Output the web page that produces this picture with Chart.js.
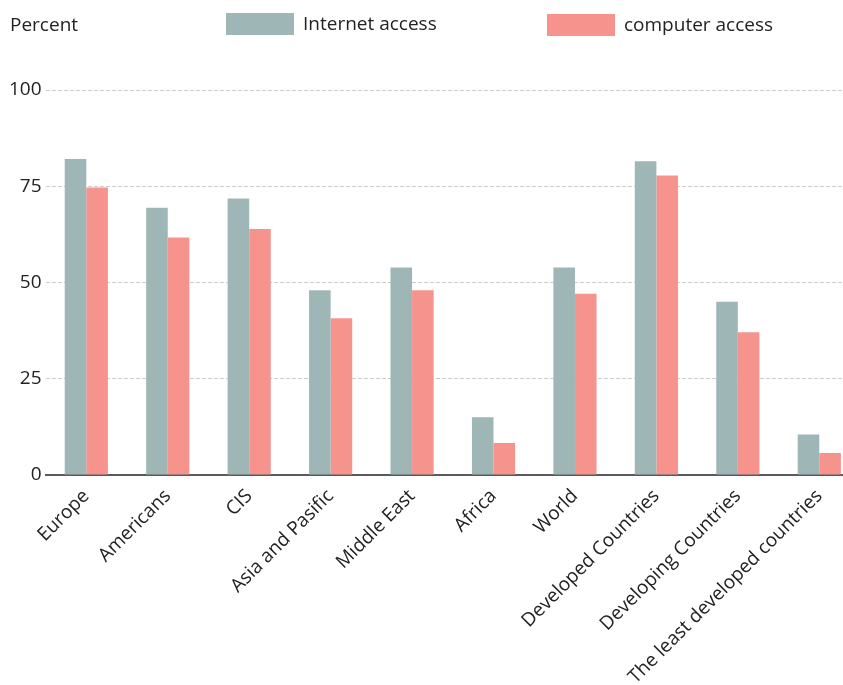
<!DOCTYPE html>
<html>
<head>
<meta charset="utf-8">
<script src="https://cdn.jsdelivr.net/npm/chart.js@4/dist/chart.umd.min.js"></script>
<style>
  html, body { margin: 0; padding: 0; background: #fff; overflow: hidden; }
  #wrap { position: relative; width: 843px; height: 685px; overflow: hidden; }
  #c { position: absolute; left: 0; top: 0; }
  .txt { position: absolute; font-family: "Open Sans", sans-serif; font-size: 19px; color: #222; white-space: nowrap; line-height: 1; }
  .box { position: absolute; width: 68px; height: 22px; }
</style>
</head>
<body>
<div id="wrap">
  <canvas id="c" width="860" height="685"></canvas>
  <div class="txt" id="ylab" style="left:10px; top:15px;"></div>
  <div id="legend"></div>
</div>
<script>
const categories = ["Europe", "Americans", "CIS", "Asia and Pasific", "Middle East", "Africa", "World", "Developed Countries", "Developing Countries", "The least developed countries"];
const seriesNames = ["Internet access", "computer access"];
const internetAccess = [82.1, 69.4, 71.8, 48.0, 53.9, 15.0, 53.9, 81.5, 45.0, 10.5];
const computerAccess = [74.7, 61.7, 63.9, 40.7, 48.0, 8.3, 47.1, 77.8, 37.1, 5.7];
const yTicks = [0, 25, 50, 75, 100];
const yTitle = "Percent";

const colors = ["#9fb6b6", "#f7938d"];
const font = { family: "'Open Sans', sans-serif", size: 19 };

document.getElementById('ylab').textContent = yTitle;

const chart = new Chart(document.getElementById('c'), {
  type: 'bar',
  data: {
    labels: categories,
    datasets: [
      { label: seriesNames[0], data: internetAccess, backgroundColor: colors[0], borderWidth: 0 },
      { label: seriesNames[1], data: computerAccess, backgroundColor: colors[1], borderWidth: 0 }
    ]
  },
  options: {
    responsive: false,
    animation: false,
    devicePixelRatio: 1,
    layout: { padding: { top: 90, left: 5, right: 0, bottom: 0 } },
    plugins: { legend: { display: false }, tooltip: { enabled: false } },
    datasets: { bar: { categoryPercentage: 0.53, barPercentage: 1.0 } },
    scales: {
      x: {
        afterFit: (s) => { s.height = 210; },
        grid: { display: false, drawTicks: false },
        border: { display: true, color: '#5a5a5a', width: 2 },
        ticks: { autoSkip: false, minRotation: 45, maxRotation: 45, color: '#222', font: font, padding: 10 }
      },
      y: {
        min: 0, max: 100,
        afterBuildTicks: (s) => { s.ticks = yTicks.map(v => ({ value: v })); },
        grid: { color: '#cccccc', lineWidth: 1, drawTicks: false },
        border: { display: false, dash: [4, 2] },
        ticks: { color: '#222', font: font, padding: 4 }
      }
    }
  }
});

// HTML legend built from the chart's datasets
const leg = document.getElementById('legend');
const legPos = [{ box: 226, y: 13, text: 303 }, { box: 547, y: 14, text: 624 }];
chart.data.datasets.forEach((ds, i) => {
  const b = document.createElement('div');
  b.className = 'box';
  b.style.left = legPos[i].box + 'px';
  b.style.top = legPos[i].y + 'px';
  b.style.background = ds.backgroundColor;
  leg.appendChild(b);
  const t = document.createElement('div');
  t.className = 'txt';
  t.style.left = legPos[i].text + 'px';
  t.style.top = (legPos[i].y + 1) + 'px';
  t.textContent = ds.label;
  leg.appendChild(t);
});
</script>
</body>
</html>
